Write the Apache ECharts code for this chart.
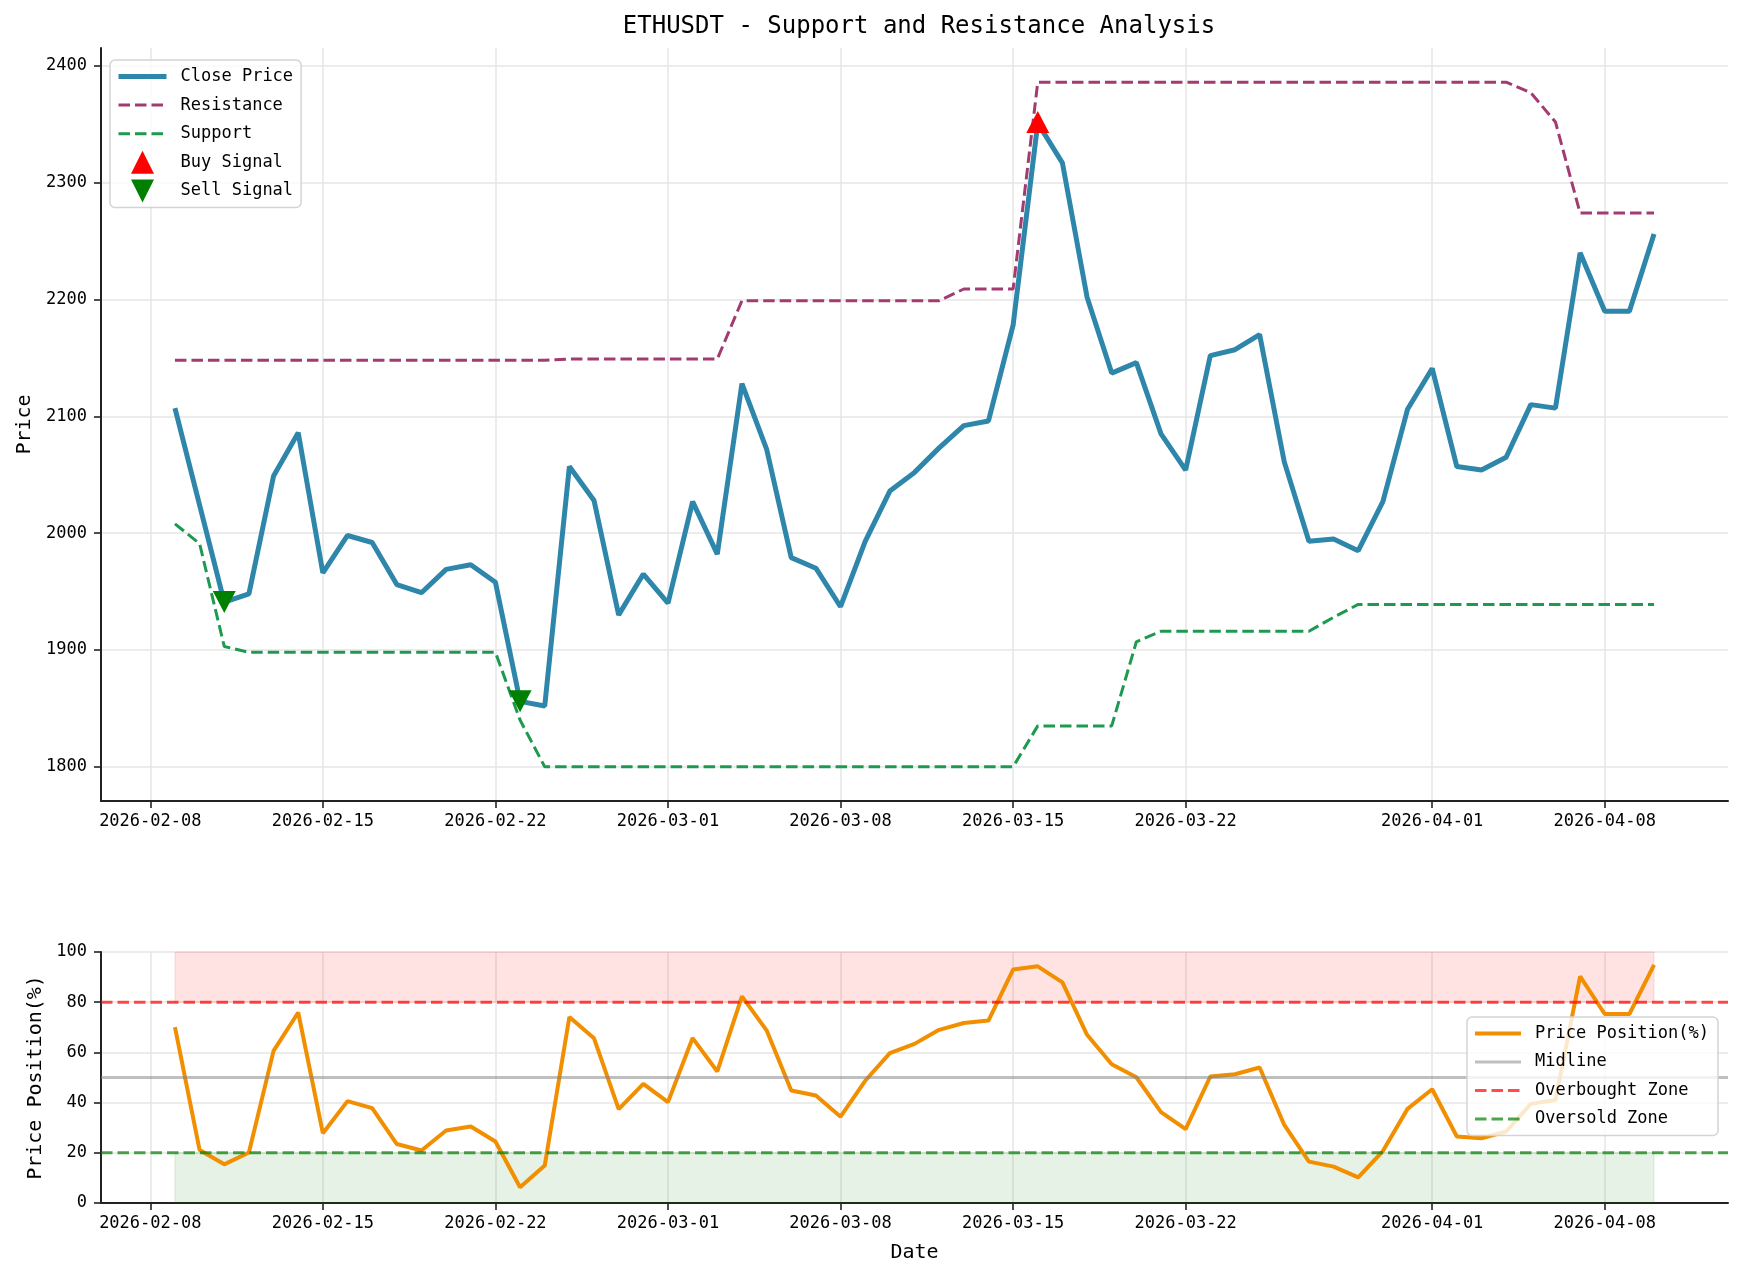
<!DOCTYPE html>
<html>
<head>
<meta charset="utf-8">
<script src="https://cdn.jsdelivr.net/npm/echarts@6/dist/echarts.min.js"></script>
<style>
html, body { margin: 0; padding: 0; background: #fff; }
#chart { width: 1743px; height: 1280px; }
</style>
</head>
<body>
<div id="chart"></div>
<script>
const FONT = "'DejaVu Sans Mono', monospace";

const dates = [
  '2026-02-09', '2026-02-10', '2026-02-11', '2026-02-12', '2026-02-13', '2026-02-14', '2026-02-15',
  '2026-02-16', '2026-02-17', '2026-02-18', '2026-02-19', '2026-02-20', '2026-02-21', '2026-02-22',
  '2026-02-23', '2026-02-24', '2026-02-25', '2026-02-26', '2026-02-27', '2026-02-28', '2026-03-01',
  '2026-03-02', '2026-03-03', '2026-03-04', '2026-03-05', '2026-03-06', '2026-03-07', '2026-03-08',
  '2026-03-09', '2026-03-10', '2026-03-11', '2026-03-12', '2026-03-13', '2026-03-14', '2026-03-15',
  '2026-03-16', '2026-03-17', '2026-03-18', '2026-03-19', '2026-03-20', '2026-03-21', '2026-03-22',
  '2026-03-23', '2026-03-24', '2026-03-25', '2026-03-26', '2026-03-27', '2026-03-28', '2026-03-29',
  '2026-03-30', '2026-03-31', '2026-04-01', '2026-04-02', '2026-04-03', '2026-04-04', '2026-04-05',
  '2026-04-06', '2026-04-07', '2026-04-08', '2026-04-09', '2026-04-10'
];

const closePrice = [
  2107, 2024, 1941, 1948, 2049, 2086, 1966, 1998, 1992, 1956,
  1949, 1969, 1973, 1958, 1856, 1852, 2057, 2028, 1930, 1965,
  1940, 2027, 1982, 2128, 2072, 1979, 1970, 1937, 1993, 2036,
  2052, 2073, 2092, 2096, 2178, 2351, 2317, 2202, 2137, 2146,
  2085, 2054, 2152, 2157, 2170, 2061, 1993, 1995, 1985, 2027,
  2106, 2141, 2057, 2054, 2065, 2110, 2107, 2240, 2190, 2190,
  2256
];

const resistance = [
  2148, 2148, 2148, 2148, 2148, 2148, 2148, 2148, 2148, 2148,
  2148, 2148, 2148, 2148, 2148, 2148, 2149, 2149, 2149, 2149,
  2149, 2149, 2149, 2199, 2199, 2199, 2199, 2199, 2199, 2199,
  2199, 2199, 2209, 2209, 2209, 2386, 2386, 2386, 2386, 2386,
  2386, 2386, 2386, 2386, 2386, 2386, 2386, 2386, 2386, 2386,
  2386, 2386, 2386, 2386, 2386, 2377, 2352, 2274, 2274, 2274,
  2274
];

const support = [
  2008, 1991, 1903, 1898, 1898, 1898, 1898, 1898, 1898, 1898,
  1898, 1898, 1898, 1898, 1840, 1800, 1800, 1800, 1800, 1800,
  1800, 1800, 1800, 1800, 1800, 1800, 1800, 1800, 1800, 1800,
  1800, 1800, 1800, 1800, 1800, 1835, 1835, 1835, 1835, 1907,
  1916, 1916, 1916, 1916, 1916, 1916, 1916, 1928, 1939, 1939,
  1939, 1939, 1939, 1939, 1939, 1939, 1939, 1939, 1939, 1939,
  1939
];

const pricePosition = [
  70.1, 21.1, 15.4, 20.1, 60.6, 75.9, 27.8, 40.6, 37.8, 23.5,
  20.9, 28.9, 30.5, 24.5, 6.3, 14.9, 74.1, 65.6, 37.4, 47.5,
  40.2, 65.7, 52.4, 82.3, 68.8, 44.8, 42.8, 34.4, 48.7, 59.7,
  63.4, 69.0, 71.7, 72.7, 93.0, 94.3, 87.9, 67.0, 55.3, 50.1,
  36.2, 29.4, 50.4, 51.3, 54.0, 31.1, 16.5, 14.5, 10.2, 20.7,
  37.5, 45.3, 26.5, 25.8, 28.5, 39.5, 41.0, 90.3, 75.3, 75.3,
  94.9
];

const buyDates = ['2026-03-16'];
const buyPrices = [2352];
const sellDates = ['2026-02-11', '2026-02-23'];
const sellPrices = [1941, 1856];

const xRange = ['2026-02-06', '2026-04-13'];
const xTicks = ['2026-02-08', '2026-02-15', '2026-02-22', '2026-03-01', '2026-03-08',
                '2026-03-15', '2026-03-22', '2026-04-01', '2026-04-08'];
const priceTicks = [1800, 1900, 2000, 2100, 2200, 2300, 2400];
const priceRange = [1770.7, 2415.3];
const midline = 50;
const overbought = 80;
const oversold = 20;

function ts(s) {
  const p = s.split('-').map(Number);
  return Date.UTC(p[0], p[1] - 1, p[2]);
}
function fmt(v) {
  const d = new Date(v);
  return d.getUTCFullYear() + '-' + String(d.getUTCMonth() + 1).padStart(2, '0') + '-' +
    String(d.getUTCDate()).padStart(2, '0');
}
function pairs(xs, ys) {
  return xs.map((d, i) => [ts(d), ys[i]]);
}

const AXIS_COLOR = '#222';
const GRID_LINE = { show: true, lineStyle: { color: '#e6e6e6', width: 1.5 } };
const DASH = [11.5, 5];

// dates go on a plain value axis (timestamps) so the tick positions can be fixed
function xAxis(gridIndex, name) {
  return {
    type: 'value',
    gridIndex: gridIndex,
    min: ts(xRange[0]),
    max: ts(xRange[1]),
    name: name,
    nameLocation: 'middle',
    nameGap: 40,
    nameTextStyle: { fontFamily: FONT, fontSize: 20, color: '#000' },
    axisLine: { show: true, lineStyle: { color: AXIS_COLOR, width: 2 } },
    axisTick: { show: true, length: 7, lineStyle: { color: AXIS_COLOR, width: 1.6 },
                customValues: xTicks.map(ts) },
    axisLabel: { customValues: xTicks.map(ts), formatter: fmt, color: '#000',
                 fontFamily: FONT, fontSize: 17, margin: 12, hideOverlap: false },
    splitLine: GRID_LINE
  };
}

const closeColor = '#2E86AB';
const resColor = '#A23B72';
const supColor = '#1E9A50';
const posColor = '#F18F01';

const legendBox = {
  orient: 'vertical',
  backgroundColor: 'rgba(255,255,255,0.8)',
  borderColor: '#d4d4d4',
  borderWidth: 1.5,
  borderRadius: 5,
  textStyle: { fontFamily: FONT, fontSize: 17, color: '#000', padding: [0, 0, 0, 9] }
};

const option = {
  animation: false,
  backgroundColor: '#fff',
  title: {
    text: 'ETHUSDT - Support and Resistance Analysis',
    left: 914,
    textAlign: 'center',
    top: 10,
    textStyle: { fontFamily: FONT, fontSize: 24, fontWeight: 'normal', color: '#000' }
  },
  grid: [
    { left: 101, right: 15, top: 48, height: 753 },
    { left: 101, right: 15, top: 952, height: 251 }
  ],
  legend: [
    Object.assign({}, legendBox, {
      left: 110,
      top: 60,
      itemWidth: 48,
      itemHeight: 23,
      itemGap: 5.6,
      padding: [5, 8, 5, 6],
      textStyle: { fontFamily: FONT, fontSize: 17, color: '#000', lineHeight: 23, padding: [0, 0, 0, 9] },
      data: [
        { name: 'Close Price', itemStyle: { opacity: 0 }, lineStyle: { width: 5 } },
        { name: 'Resistance', itemStyle: { opacity: 0 }, lineStyle: { width: 3 } },
        { name: 'Support', itemStyle: { opacity: 0 }, lineStyle: { width: 3 } },
        { name: 'Buy Signal', icon: 'path://M5,0L10,10L0,10Z' },
        { name: 'Sell Signal', icon: 'path://M0,0L10,0L5,10Z' }
      ]
    }),
    Object.assign({}, legendBox, {
      right: 25,
      top: 1017,
      itemWidth: 46,
      itemHeight: 14,
      itemGap: 11.5,
      padding: [8, 9, 8, 6],
      data: [
        { name: 'Price Position(%)', itemStyle: { opacity: 0 }, lineStyle: { width: 4 } },
        { name: 'Midline', itemStyle: { opacity: 0 }, lineStyle: { width: 3 } },
        { name: 'Overbought Zone', itemStyle: { opacity: 0 }, lineStyle: { width: 3 } },
        { name: 'Oversold Zone', itemStyle: { opacity: 0 }, lineStyle: { width: 3 } }
      ]
    })
  ],
  xAxis: [xAxis(0, ''), xAxis(1, 'Date')],
  yAxis: [
    {
      type: 'value',
      gridIndex: 0,
      min: priceRange[0],
      max: priceRange[1],
      name: 'Price',
      nameLocation: 'middle',
      nameGap: 57,
      nameTextStyle: { fontFamily: FONT, fontSize: 20, color: '#000' },
      axisLine: { show: true, lineStyle: { color: AXIS_COLOR, width: 2 } },
      axisTick: { show: true, length: 7, lineStyle: { color: AXIS_COLOR, width: 1.6 },
                  customValues: priceTicks },
      axisLabel: { customValues: priceTicks, formatter: v => String(v), color: '#000',
                   fontFamily: FONT, fontSize: 17, margin: 14 },
      splitLine: GRID_LINE
    },
    {
      type: 'value',
      gridIndex: 1,
      min: 0,
      max: 100,
      interval: 20,
      name: 'Price Position(%)',
      nameLocation: 'middle',
      nameGap: 55,
      nameTextStyle: { fontFamily: FONT, fontSize: 20, color: '#000' },
      axisLine: { show: true, lineStyle: { color: AXIS_COLOR, width: 2 } },
      axisTick: { show: true, length: 7, lineStyle: { color: AXIS_COLOR, width: 1.6 } },
      axisLabel: { color: '#000', fontFamily: FONT, fontSize: 17, margin: 14 },
      splitLine: GRID_LINE
    }
  ],
  series: [
    {
      name: 'Close Price', type: 'line', xAxisIndex: 0, yAxisIndex: 0,
      data: pairs(dates, closePrice), symbol: 'none', color: closeColor,
      lineStyle: { color: closeColor, width: 5 }
    },
    {
      name: 'Resistance', type: 'line', xAxisIndex: 0, yAxisIndex: 0,
      data: pairs(dates, resistance), symbol: 'none', color: resColor,
      lineStyle: { color: resColor, width: 3, type: DASH }
    },
    {
      name: 'Support', type: 'line', xAxisIndex: 0, yAxisIndex: 0,
      data: pairs(dates, support), symbol: 'none', color: supColor,
      lineStyle: { color: supColor, width: 3, type: DASH }
    },
    {
      name: 'Buy Signal', type: 'scatter', xAxisIndex: 0, yAxisIndex: 0, z: 5,
      data: pairs(buyDates, buyPrices), symbol: 'triangle', symbolSize: [23, 22],
      itemStyle: { color: '#ff0000', opacity: 1 }
    },
    {
      name: 'Sell Signal', type: 'scatter', xAxisIndex: 0, yAxisIndex: 0, z: 5,
      data: pairs(sellDates, sellPrices), symbol: 'triangle', symbolRotate: 180, symbolSize: [23, 22],
      itemStyle: { color: '#008000', opacity: 1 }
    },
    {
      name: 'Price Position(%)', type: 'line', xAxisIndex: 1, yAxisIndex: 1,
      data: pairs(dates, pricePosition), symbol: 'none', color: posColor,
      lineStyle: { color: posColor, width: 4 },
      markArea: {
        silent: true,
        data: [
          [{ xAxis: ts(dates[0]), yAxis: overbought, itemStyle: { color: 'rgba(255,0,0,0.11)', borderColor: 'rgba(255,0,0,0.12)', borderWidth: 1 } },
           { xAxis: ts(dates[dates.length - 1]), yAxis: 100 }],
          [{ xAxis: ts(dates[0]), yAxis: 0, itemStyle: { color: 'rgba(0,128,0,0.1)', borderColor: 'rgba(0,128,0,0.12)', borderWidth: 1 } },
           { xAxis: ts(dates[dates.length - 1]), yAxis: oversold }]
        ]
      }
    },
    {
      name: 'Midline', type: 'line', xAxisIndex: 1, yAxisIndex: 1,
      data: pairs(xRange, [midline, midline]), symbol: 'none', color: 'rgba(128,128,128,0.5)',
      lineStyle: { color: 'rgba(128,128,128,0.5)', width: 3 }
    },
    {
      name: 'Overbought Zone', type: 'line', xAxisIndex: 1, yAxisIndex: 1,
      data: pairs(xRange, [overbought, overbought]), symbol: 'none', color: 'rgba(255,0,0,0.7)',
      lineStyle: { color: 'rgba(255,0,0,0.7)', width: 3, type: DASH }
    },
    {
      name: 'Oversold Zone', type: 'line', xAxisIndex: 1, yAxisIndex: 1,
      data: pairs(xRange, [oversold, oversold]), symbol: 'none', color: 'rgba(0,128,0,0.7)',
      lineStyle: { color: 'rgba(0,128,0,0.7)', width: 3, type: DASH }
    }
  ]
};

echarts.init(document.getElementById('chart')).setOption(option);
</script>
</body>
</html>
